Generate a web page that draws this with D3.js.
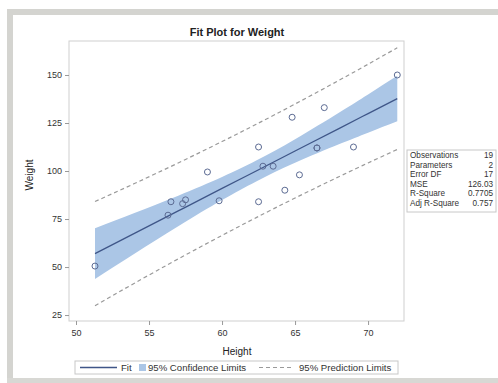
<!DOCTYPE html>
<html><head><meta charset="utf-8">
<script src="https://cdn.jsdelivr.net/npm/d3@7"></script>
<style>body{margin:0;background:#fff;}svg{display:block;font-family:Arial,"Liberation Sans",sans-serif;}</style>
</head><body><svg id="c" width="498" height="383"></svg>
<script>
const height = [69.0,56.5,65.3,62.8,63.5,57.3,59.8,62.5,62.5,59.0,51.3,64.3,56.3,66.5,72.0,64.8,67.0,57.5,66.5];
const weight = [112.5,84.0,98.0,102.5,102.5,83.0,84.5,112.5,84.0,99.5,50.5,90.0,77.0,112.0,150.0,128.0,133.0,85.0,112.0];
const bandX   = [51.3,54,57,60,62.34,65,68,70,72];
const fitY    = [56.99,67.52,79.22,90.92,100.03,110.41,122.11,129.91,137.70];
const clLower = [43.80,56.94,71.26,84.91,94.59,104.25,113.89,119.95,125.86];
const clUpper = [70.18,78.10,87.17,96.92,105.46,116.57,130.33,139.86,149.55];
const plLower = [29.88,41.58,54.23,66.48,75.73,85.94,97.04,104.21,111.22];
const plUpper = [84.10,93.46,104.20,115.35,124.33,134.88,147.18,155.60,164.18];
const xTicks = [50,55,60,65,70];
const yTicks = [25,50,75,100,125,150];
const statLabels = ["Observations","Parameters","Error DF","MSE","R-Square","Adj R-Square"];
const statValues = ["19","2","17","126.03","0.7705","0.757"];
const legendLabels = ["Fit","95% Confidence Limits","95% Prediction Limits"];

const svg = d3.select("#c");
svg.append("rect").attr("x",7).attr("y",9).attr("width",491).attr("height",6).attr("fill","#d4d4d0");
svg.append("rect").attr("x",7).attr("y",9).attr("width",6).attr("height",374).attr("fill","#d4d4d0");
svg.append("rect").attr("x",7).attr("y",378).attr("width",491).attr("height",5).attr("fill","#d8d8d4");

const L=69,R=404,T=41,B=321;
const x = d3.scaleLinear().domain([49.52,72.46]).range([L,R]);
const y = d3.scaleLinear().domain([21.9,167.7]).range([B,T]);

svg.append("text").attr("x",237).attr("y",36).attr("text-anchor","middle")
  .attr("font-size",11).attr("font-weight","bold").attr("fill","#222").text("Fit Plot for Weight");

const g = svg.append("g");
g.append("clipPath").attr("id","clip").append("rect").attr("x",L).attr("y",T).attr("width",R-L).attr("height",B-T);
const pg = g.append("g").attr("clip-path","url(#clip)");
const idx = d3.range(bandX.length);
pg.append("path").datum(idx)
  .attr("d", d3.area().x(i=>x(bandX[i])).y0(i=>y(clLower[i])).y1(i=>y(clUpper[i])).curve(d3.curveNatural))
  .attr("fill","#abc6e6");
const line = arr => d3.line().x(i=>x(bandX[i])).y(i=>y(arr[i])).curve(d3.curveNatural);
pg.append("path").datum(idx).attr("d",line(plLower)).attr("fill","none").attr("stroke","#9a9a9a").attr("stroke-width",1.2).attr("stroke-dasharray","4,3");
pg.append("path").datum(idx).attr("d",line(plUpper)).attr("fill","none").attr("stroke","#9a9a9a").attr("stroke-width",1.2).attr("stroke-dasharray","4,3");
pg.append("path").datum(idx).attr("d",line(fitY)).attr("fill","none").attr("stroke","#3f5688").attr("stroke-width",1.3);
pg.selectAll("circle").data(height).join("circle")
  .attr("cx",(d)=>x(d)).attr("cy",(d,i)=>y(weight[i])).attr("r",3)
  .attr("fill","none").attr("stroke","#5c6b93").attr("stroke-width",1);

g.append("rect").attr("x",L).attr("y",T).attr("width",R-L).attr("height",B-T)
  .attr("fill","none").attr("stroke","#cfcfcf");

const xa = svg.append("g").attr("transform",`translate(0,${B})`)
  .call(d3.axisBottom(x).tickValues(xTicks).tickSize(4).tickPadding(5));
const ya = svg.append("g").attr("transform",`translate(${L},0)`)
  .call(d3.axisLeft(y).tickValues(yTicks).tickSize(4).tickPadding(3));
[xa,ya].forEach(a=>{
  a.select(".domain").remove();
  a.selectAll(".tick line").attr("stroke","#999");
  a.selectAll(".tick text").attr("fill","#333").attr("font-size",9).attr("font-family","Arial,'Liberation Sans',sans-serif");
});

svg.append("text").attr("x",237).attr("y",355).attr("text-anchor","middle").attr("font-size",10).attr("fill","#222").text("Height");
svg.append("text").attr("transform","translate(33,175) rotate(-90)").attr("text-anchor","middle").attr("font-size",10).attr("fill","#222").text("Weight");

const sb = svg.append("g");
sb.append("rect").attr("x",407).attr("y",150).attr("width",89).attr("height",62).attr("fill","#fff").attr("stroke","#c8c8c8");
statLabels.forEach((s,i)=>{
  sb.append("text").attr("x",410).attr("y",158+i*9.6).attr("font-size",8.2).attr("fill","#333").text(s);
  sb.append("text").attr("x",493).attr("y",158+i*9.6).attr("text-anchor","end").attr("font-size",8.2).attr("fill","#333").text(statValues[i]);
});

const lg = svg.append("g");
lg.append("rect").attr("x",75).attr("y",361).attr("width",323).attr("height",13).attr("fill","#fff").attr("stroke","#c8c8c8");
lg.append("line").attr("x1",80).attr("x2",117).attr("y1",367.5).attr("y2",367.5).attr("stroke","#3f5688").attr("stroke-width",1.3);
lg.append("text").attr("x",121).attr("y",371).attr("font-size",9.6).attr("fill","#333").text(legendLabels[0]);
lg.append("rect").attr("x",139).attr("y",364).attr("width",7).attr("height",7).attr("fill","#abc6e6");
lg.append("text").attr("x",148).attr("y",371).attr("font-size",9.6).attr("fill","#333").text(legendLabels[1]);
lg.append("line").attr("x1",259).attr("x2",294).attr("y1",367.5).attr("y2",367.5).attr("stroke","#9a9a9a").attr("stroke-width",1.2).attr("stroke-dasharray","4,3");
lg.append("text").attr("x",299).attr("y",371).attr("font-size",9.6).attr("fill","#333").text(legendLabels[2]);
</script></body></html>
